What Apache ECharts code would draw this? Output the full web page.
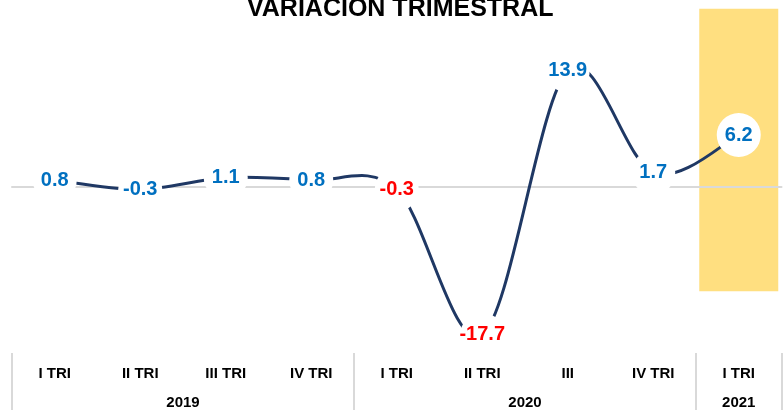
<!DOCTYPE html>
<html lang="es">

<head>
    <meta charset="UTF-8">
    <title>Variación trimestral</title>
    <script src="https://cdn.jsdelivr.net/npm/echarts@6/dist/echarts.min.js"></script>
    <style>
        body {
            margin: 0;
            background: #fff;
        }

        #chart {
            width: 784px;
            height: 410px;
        }
    </style>
</head>

<body>
    <div id="chart"></div>

    <script>
        // datos
        const quarters = ['I TRI', 'II TRI', 'III TRI', 'IV TRI', 'I TRI', 'II TRI', 'III', 'IV TRI', 'I TRI'];
        const values = [0.8, -0.3, 1.1, 0.8, -0.3, -17.7, 13.9, 1.7, 6.2];
        const labelColors = ['#0070c0', '#0070c0', '#0070c0', '#0070c0', '#ff0000', '#ff0000', '#0070c0', '#0070c0', '#0070c0'];
        const years = ['2019', '2020', '2021'];
        const yearSpans = [4, 4, 1];
        // franja amarilla del último trimestre
        const bandTop = [null, null, null, null, null, null, null, null, 21.3];
        const bandBottom = [null, null, null, null, null, null, null, null, -12.5];

        // eje de años: media posición por trimestre (bordes y centros)
        const yearSlots = new Array(quarters.length * 2 + 1).fill('');
        const yearBorders = [0];
        let start = 0;
        years.forEach((y, i) => {
            yearSlots[start + yearSpans[i]] = y;
            start += yearSpans[i] * 2;
            yearBorders.push(start);
        });

        const font = 'Arial, "Liberation Sans", sans-serif';
        const lineColor = '#1f3864';
        const chart = echarts.init(document.getElementById('chart'));

        // curva suavizada tipo Excel (Catmull-Rom) entre el punto i y el i+1
        function renderSegment(params, api) {
            const i = params.dataIndex;
            const n = values.length;
            if (i >= n - 1) return null;
            const pt = k => api.coord([Math.max(0, Math.min(n - 1, k)), values[Math.max(0, Math.min(n - 1, k))]]);
            const p0 = pt(i - 1), p1 = pt(i), p2 = pt(i + 1), p3 = pt(i + 2);
            return {
                type: 'bezierCurve',
                shape: {
                    x1: p1[0], y1: p1[1],
                    x2: p2[0], y2: p2[1],
                    cpx1: p1[0] + (p2[0] - p0[0]) / 6,
                    cpy1: p1[1] + (p2[1] - p0[1]) / 6,
                    cpx2: p2[0] - (p3[0] - p1[0]) / 6,
                    cpy2: p2[1] - (p3[1] - p1[1]) / 6
                },
                style: { fill: 'none', stroke: lineColor, lineWidth: 3 }
            };
        }

        chart.setOption({
            animation: false,
            title: {
                text: 'VARIACION TRIMESTRAL',
                left: 242,
                top: -8,
                textStyle: { fontFamily: font, fontSize: 25, fontWeight: 'bold', color: '#000' }
            },
            grid: [
                { left: 12, right: 2.5, top: 3, height: 351 },
                { left: 12, right: 2.5, top: 353, bottom: 0 }
            ],
            xAxis: [
                {
                    type: 'category',
                    gridIndex: 0,
                    data: quarters,
                    z: 3,
                    axisLine: { onZero: true, lineStyle: { color: '#d9d9d9', width: 2 } },
                    axisTick: { show: false },
                    axisLabel: { show: false }
                },
                {
                    type: 'category',
                    gridIndex: 1,
                    position: 'top',
                    data: quarters,
                    axisLine: { show: false },
                    axisTick: { show: false },
                    axisLabel: {
                        inside: true,
                        interval: 0,
                        margin: 13,
                        fontFamily: font,
                        fontSize: 15,
                        fontWeight: 'bold',
                        color: '#000'
                    }
                },
                {
                    type: 'category',
                    gridIndex: 1,
                    position: 'bottom',
                    boundaryGap: false,
                    data: yearSlots,
                    axisLine: { show: false },
                    axisTick: { show: false },
                    axisLabel: {
                        inside: true,
                        interval: (i, v) => v !== '',
                        margin: 0,
                        fontFamily: font,
                        fontSize: 15,
                        fontWeight: 'bold',
                        color: '#000'
                    },
                    splitLine: {
                        show: true,
                        interval: (i) => yearBorders.includes(i),
                        lineStyle: { color: '#d9d9d9', width: 2 }
                    }
                }
            ],
            yAxis: [
                { type: 'value', gridIndex: 0, min: -20, max: 22, show: false },
                { type: 'value', gridIndex: 1, show: false }
            ],
            series: [
                {
                    type: 'bar',
                    data: bandTop,
                    barWidth: 79,
                    barGap: '-100%',
                    z: 1,
                    itemStyle: { color: '#ffdf80' },
                    silent: true
                },
                {
                    type: 'bar',
                    data: bandBottom,
                    barWidth: 79,
                    barGap: '-100%',
                    z: 1,
                    itemStyle: { color: '#ffdf80' },
                    silent: true
                },
                {
                    type: 'custom',
                    z: 4,
                    silent: true,
                    renderItem: renderSegment,
                    data: values.map((v, i) => [i, v])
                },
                {
                    type: 'line',
                    z: 5,
                    symbol: 'circle',
                    symbolSize: 44,
                    lineStyle: { opacity: 0 },
                    itemStyle: { color: '#fff' },
                    data: values.map((v, i) => ({
                        value: v,
                        label: { color: labelColors[i] }
                    })),
                    label: {
                        show: true,
                        position: 'inside',
                        fontFamily: font,
                        fontSize: 20,
                        fontWeight: 'bold'
                    }
                }
            ]
        });
    </script>
</body>

</html>
